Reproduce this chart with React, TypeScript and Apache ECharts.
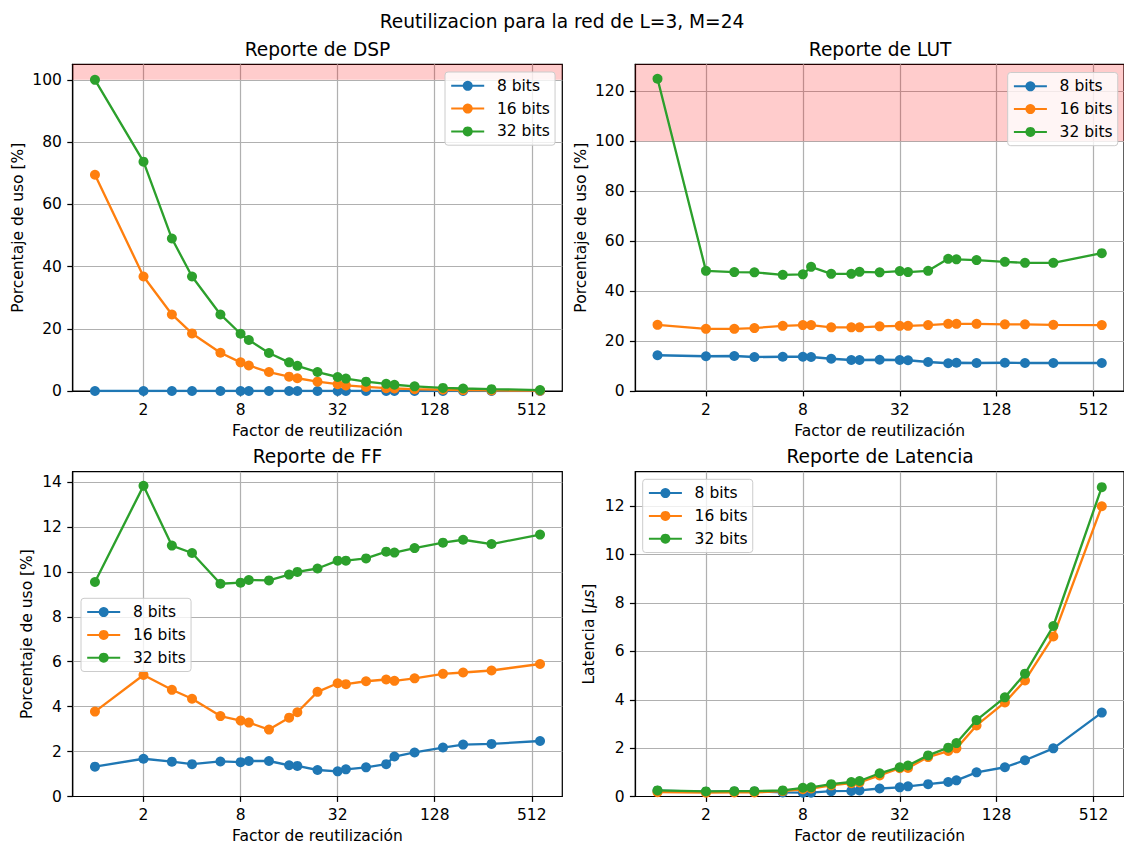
import React, { useEffect, useRef } from "react";
import * as echarts from "echarts";

// Reuse factors (divisors of 576) on the x axis
const reuseFactors = [1, 2, 3, 4, 6, 8, 9, 12, 16, 18, 24, 32, 36, 48, 64, 72, 96, 144, 192, 288, 576];
const xTickFactors = [2, 8, 32, 128, 512];
const seriesNames = ["8 bits", "16 bits", "32 bits"];
const seriesColors = ["#1f77b4", "#ff7f0e", "#2ca02c"];

// DSP usage [%]
const dsp8 = [0, 0, 0, 0, 0, 0, 0, 0, 0, 0, 0, 0, 0, 0, 0, 0, 0, 0, 0, 0, 0];
const dsp16 = [69.5, 36.8, 24.6, 18.5, 12.3, 9.2, 8.2, 6.1, 4.6, 4.1, 3.0, 2.2, 1.8, 1.3, 0.9, 0.8, 0.6, 0.4, 0.3, 0.2, 0.1];
const dsp32 = [100, 73.7, 49.0, 36.8, 24.6, 18.4, 16.4, 12.2, 9.2, 8.1, 6.1, 4.5, 4.0, 3.0, 2.3, 2.0, 1.5, 1.0, 0.8, 0.6, 0.3];

// LUT usage [%]
const lut8 = [14.3, 13.9, 14.0, 13.6, 13.7, 13.7, 13.6, 12.9, 12.4, 12.4, 12.5, 12.4, 12.3, 11.6, 11.1, 11.3, 11.2, 11.3, 11.2, 11.2, 11.2];
const lut16 = [26.5, 24.9, 24.9, 25.2, 26.1, 26.4, 26.4, 25.5, 25.5, 25.5, 25.9, 26.1, 26.1, 26.4, 26.9, 26.9, 26.9, 26.7, 26.7, 26.5, 26.4];
const lut32 = [125.0, 48.1, 47.6, 47.5, 46.5, 46.7, 49.7, 46.9, 46.9, 47.7, 47.5, 48.0, 47.6, 48.1, 52.9, 52.7, 52.4, 51.7, 51.3, 51.3, 55.2];

// FF usage [%]
const ff8 = [1.33, 1.68, 1.55, 1.44, 1.56, 1.53, 1.58, 1.58, 1.39, 1.36, 1.18, 1.12, 1.21, 1.3, 1.44, 1.78, 1.96, 2.18, 2.31, 2.34, 2.47];
const ff16 = [3.78, 5.41, 4.75, 4.35, 3.58, 3.38, 3.29, 2.98, 3.51, 3.75, 4.66, 5.04, 5.0, 5.13, 5.21, 5.15, 5.26, 5.46, 5.52, 5.61, 5.9];
const ff32 = [9.55, 13.83, 11.17, 10.84, 9.47, 9.52, 9.64, 9.62, 9.88, 10.0, 10.15, 10.5, 10.5, 10.6, 10.9, 10.86, 11.06, 11.3, 11.43, 11.24, 11.66];

// Latency [us]
const lat8 = [0.24, 0.2, 0.21, 0.21, 0.17, 0.16, 0.16, 0.22, 0.23, 0.25, 0.33, 0.38, 0.42, 0.51, 0.6, 0.67, 1.0, 1.21, 1.5, 1.99, 3.47];
const lat16 = [0.18, 0.16, 0.17, 0.17, 0.22, 0.3, 0.33, 0.46, 0.55, 0.58, 0.87, 1.17, 1.18, 1.63, 1.88, 1.99, 2.94, 3.89, 4.8, 6.62, 12.0];
const lat32 = [0.25, 0.21, 0.22, 0.22, 0.25, 0.36, 0.38, 0.51, 0.6, 0.64, 0.96, 1.21, 1.28, 1.7, 2.02, 2.21, 3.16, 4.1, 5.08, 7.05, 12.79];

// Y tick labels
const pctTicksDsp = [0, 20, 40, 60, 80, 100];
const pctTicksLut = [0, 20, 40, 60, 80, 100, 120];
const pctTicksFf = [0, 2, 4, 6, 8, 10, 12, 14];
const latTicks = [0, 2, 4, 6, 8, 10, 12];

const FONT = "DejaVu Sans";
const SMALL = 15.5;
const BIG = 18.6;
const LW = 1.24;

type Panel = {
  title: string;
  grid: { left: number; top: number; width: number; height: number };
  yMax: number;
  yTicks: number[];
  yName: string;
  yNameGap: number;
  values: number[][];
  legend: { left: number; top: number };
  overLimit?: [number, number];
};

const panels: Panel[] = [
  {
    title: "Reporte de DSP",
    grid: { left: 72.7, top: 64.3, width: 489.6, height: 326.7 },
    yMax: 105,
    yTicks: pctTicksDsp,
    yName: "Porcentaje de uso [%]",
    yNameGap: 45.5,
    values: [dsp8, dsp16, dsp32],
    legend: { left: 445, top: 72 },
    overLimit: [100, 105],
  },
  {
    title: "Reporte de LUT",
    grid: { left: 635.3, top: 64.3, width: 489.6, height: 326.7 },
    yMax: 130.8,
    yTicks: pctTicksLut,
    yName: "Porcentaje de uso [%]",
    yNameGap: 45.5,
    values: [lut8, lut16, lut32],
    legend: { left: 1007.7, top: 72.5 },
    overLimit: [100, 130.8],
  },
  {
    title: "Reporte de FF",
    grid: { left: 72.7, top: 471.7, width: 489.6, height: 326.6 },
    yMax: 14.46,
    yTicks: pctTicksFf,
    yName: "Porcentaje de uso [%]",
    yNameGap: 36.5,
    values: [ff8, ff16, ff32],
    legend: { left: 81, top: 598.3 },
  },
  {
    title: "Reporte de Latencia",
    grid: { left: 635.3, top: 471.7, width: 489.6, height: 326.6 },
    yMax: 13.43,
    yTicks: latTicks,
    yName: "Latencia [{i|μs}]",
    yNameGap: 37,
    values: [lat8, lat16, lat32],
    legend: { left: 642.7, top: 479.3 },
  },
];

const xMinLog = -0.05 * Math.log2(576);
const xMaxLog = 1.05 * Math.log2(576);
const xTickLogs = xTickFactors.map((f) => Math.log2(f));

function buildOption(): echarts.EChartsOption {
  const titles: any[] = [
    {
      text: "Reutilizacion para la red de L=3, M=24",
      left: 562,
      top: 10,
      textAlign: "center",
      padding: 0,
      textStyle: { fontFamily: FONT, fontSize: BIG, fontWeight: "normal", color: "#000", lineHeight: 22 },
    },
  ];
  const grids: any[] = [];
  const xAxes: any[] = [];
  const yAxes: any[] = [];
  const legends: any[] = [];
  const series: any[] = [];

  panels.forEach((p, i) => {
    titles.push({
      text: p.title,
      left: p.grid.left + p.grid.width / 2,
      top: p.grid.top - 26,
      textAlign: "center",
      padding: 0,
      textStyle: { fontFamily: FONT, fontSize: BIG, fontWeight: "normal", color: "#000", lineHeight: 22 },
    });
    grids.push({
      ...p.grid,
      show: true,
      borderColor: "#000",
      borderWidth: LW,
      backgroundColor: "transparent",
      containLabel: false,
    });
    xAxes.push({
      type: "value",
      gridIndex: i,
      min: xMinLog,
      max: xMaxLog,
      name: "Factor de reutilización",
      nameLocation: "middle",
      nameGap: 30.5,
      nameTextStyle: { fontFamily: FONT, fontSize: SMALL, color: "#000", lineHeight: 18 },
      axisLine: { show: true, onZero: false, lineStyle: { color: "#000", width: LW } },
      axisTick: { show: true, length: 5.4, customValues: xTickLogs, lineStyle: { color: "#000", width: LW } },
      axisLabel: {
        customValues: xTickLogs,
        margin: 10.8,
        fontFamily: FONT,
        fontSize: SMALL,
        color: "#000",
        formatter: (v: number) => String(Math.round(Math.pow(2, v))),
      },
      splitLine: { show: true, lineStyle: { color: "#b0b0b0", width: LW } },
    });
    yAxes.push({
      type: "value",
      gridIndex: i,
      min: 0,
      max: p.yMax,
      name: p.yName,
      nameLocation: "middle",
      nameGap: p.yNameGap,
      nameRotate: 90,
      nameTextStyle: {
        fontFamily: FONT,
        fontSize: SMALL,
        color: "#000",
        lineHeight: 18,
        rich: { i: { fontFamily: FONT, fontSize: SMALL, fontStyle: "italic", color: "#000", lineHeight: 18 } },
      },
      axisLine: { show: true, onZero: false, lineStyle: { color: "#000", width: LW } },
      axisTick: { show: true, length: 5.4, customValues: p.yTicks, lineStyle: { color: "#000", width: LW } },
      axisLabel: {
        customValues: p.yTicks,
        margin: 10.8,
        fontFamily: FONT,
        fontSize: SMALL,
        color: "#000",
      },
      splitLine: { show: true, lineStyle: { color: "#b0b0b0", width: LW } },
    });
    legends.push({
      orient: "vertical",
      left: p.legend.left,
      top: p.legend.top,
      data: seriesNames,
      selectedMode: false,
      itemWidth: 33,
      itemHeight: 12.5,
      itemGap: 6.8,
      padding: [5.8, 5.2, 5.8, 5.2],
      backgroundColor: "rgba(255,255,255,0.8)",
      borderColor: "#cccccc",
      borderWidth: 1,
      borderRadius: 3,
      textStyle: {
        fontFamily: FONT,
        fontSize: SMALL,
        color: "#000",
        lineHeight: 16,
        padding: [0, 0, 0, 7.7],
      },
    });
    if (p.overLimit) {
      series.push({
        type: "line",
        name: "limite-" + i,
        xAxisIndex: i,
        yAxisIndex: i,
        data: [],
        z: -1,
        silent: true,
        markArea: {
          silent: true,
          label: { show: false },
          itemStyle: { color: "rgba(255,0,0,0.2)" },
          data: [[{ yAxis: p.overLimit[0] }, { yAxis: p.overLimit[1] }]],
        },
      });
    }
    p.values.forEach((vals, k) => {
      series.push({
        type: "line",
        name: seriesNames[k],
        xAxisIndex: i,
        yAxisIndex: i,
        data: reuseFactors.map((f, j) => [Math.log2(f), vals[j]]),
        symbol: "circle",
        symbolSize: 10,
        showSymbol: true,
        color: seriesColors[k],
        lineStyle: { width: 2.33, color: seriesColors[k] },
        itemStyle: { color: seriesColors[k] },
        emphasis: { disabled: true },
        z: 2 + k,
      });
    });
  });

  return {
    animation: false,
    backgroundColor: "#ffffff",
    textStyle: { fontFamily: FONT },
    title: titles,
    grid: grids,
    xAxis: xAxes,
    yAxis: yAxes,
    legend: legends,
    series,
  } as any;
}

export default function App() {
  const ref = useRef<HTMLDivElement>(null);
  useEffect(() => {
    document.body.style.margin = "0";
    if (!ref.current) return;
    const chart = echarts.init(ref.current, undefined, { renderer: "svg" });
    chart.setOption(buildOption());
    return () => chart.dispose();
  }, []);
  return <div ref={ref} style={{ width: 1124, height: 846 }} />;
}
